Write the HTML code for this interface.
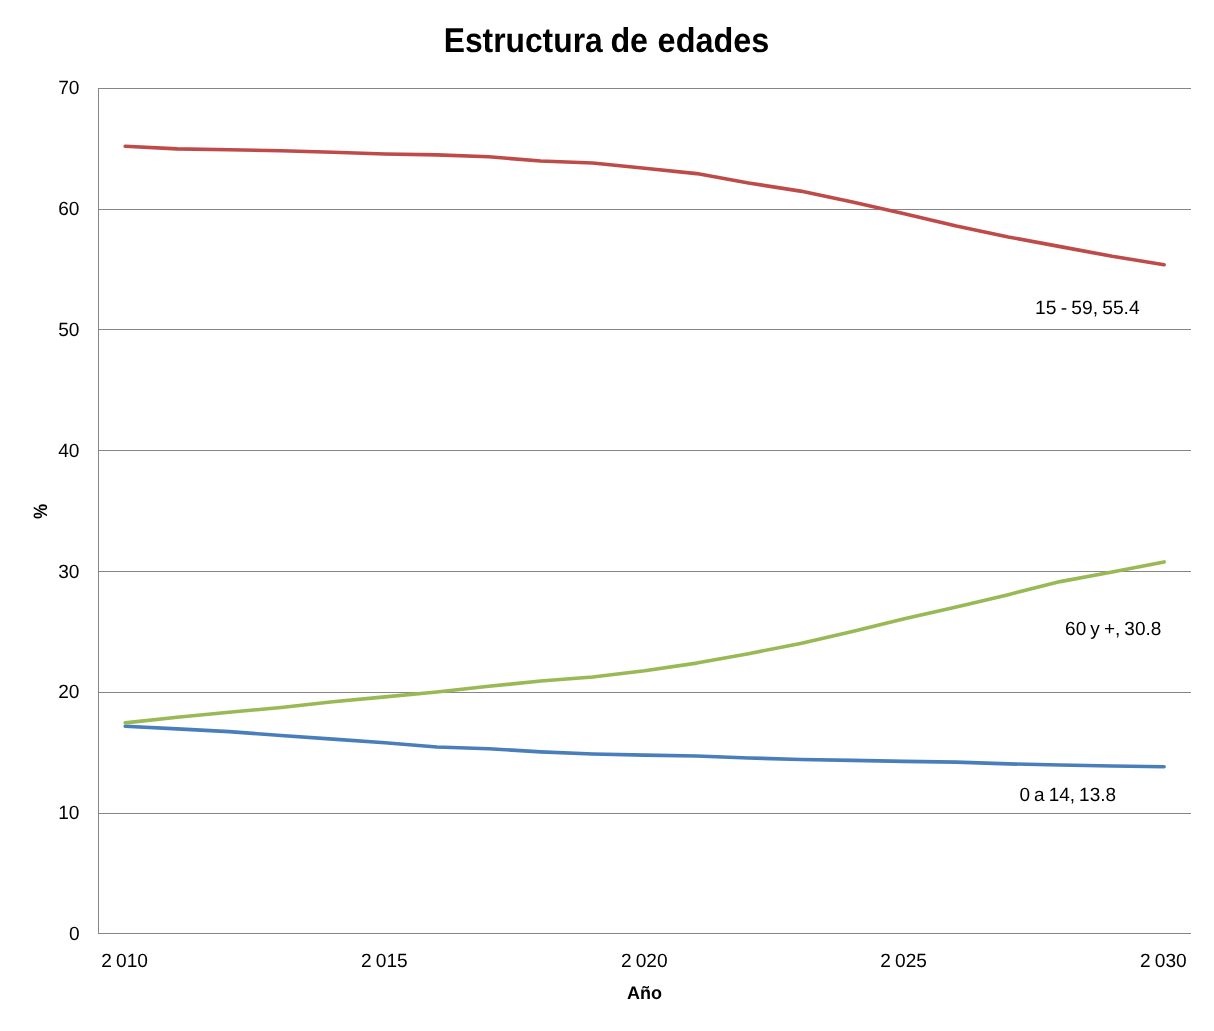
<!DOCTYPE html>
<html lang="es">
<head>
<meta charset="utf-8">
<title>Estructura de edades</title>
<style>
html,body{margin:0;padding:0;background:#fff;}
body{width:1214px;height:1031px;overflow:hidden;}
svg{display:block;will-change:transform;}
text{font-family:"Liberation Sans",sans-serif;fill:#000;text-rendering:geometricPrecision;}
.ax{font-size:19.1px;word-spacing:-1.2px;}
.b{font-weight:bold;}
</style>
</head>
<body>
<svg width="1214" height="1031" viewBox="0 0 1214 1031">
<g fill="#868686" shape-rendering="crispEdges">
<rect x="98" y="88" width="1093" height="1"/>
<rect x="98" y="209" width="1093" height="1"/>
<rect x="98" y="329" width="1093" height="1"/>
<rect x="98" y="450" width="1093" height="1"/>
<rect x="98" y="571" width="1093" height="1"/>
<rect x="98" y="692" width="1093" height="1"/>
<rect x="98" y="813" width="1093" height="1"/>
<rect x="98" y="933" width="1093" height="1"/>
<rect x="98" y="88" width="1" height="846"/>
</g>
<g fill="none" stroke-width="3.6" stroke-linecap="round" stroke-linejoin="round">
<polyline stroke="#4a7ebb" points="125.20,726.23 177.15,728.89 229.09,731.67 281.04,735.53 332.98,739.15 384.93,742.77 436.87,747.00 488.81,748.81 540.76,751.83 592.71,754.00 644.65,755.08 696.60,756.05 748.54,757.98 800.49,759.43 852.43,760.40 904.38,761.36 956.32,762.09 1008.27,763.90 1060.21,764.98 1112.15,765.95 1164.10,766.79"/>
<polyline stroke="#be4b48" points="125.20,146.20 177.15,148.86 229.09,149.82 281.04,150.79 332.98,152.24 384.93,153.93 436.87,154.89 488.81,156.82 540.76,160.93 592.71,162.98 644.65,168.17 696.60,173.60 748.54,183.02 800.49,191.11 852.43,201.97 904.38,213.80 956.32,226.11 1008.27,236.98 1060.21,246.64 1112.15,256.29 1164.10,264.74"/>
<polyline stroke="#98b954" points="125.20,722.85 177.15,717.18 229.09,712.23 281.04,707.52 332.98,701.73 384.93,696.90 436.87,692.07 488.81,686.28 540.76,680.97 592.71,676.98 644.65,670.83 696.60,663.10 748.54,653.68 800.49,643.42 852.43,631.47 904.38,618.68 956.32,606.97 1008.27,594.65 1060.21,581.62 1112.15,571.96 1164.10,561.94"/>
</g>
<text class="b" font-size="34.4px" y="52"><tspan x="443.7" textLength="159.0" lengthAdjust="spacingAndGlyphs">Estructura</tspan> <tspan x="610.4" textLength="37.7" lengthAdjust="spacingAndGlyphs">de</tspan> <tspan x="657.6" textLength="111.8" lengthAdjust="spacingAndGlyphs">edades</tspan></text>
<g class="ax" text-anchor="end">
<text x="79.5" y="94">70</text>
<text x="79.5" y="215">60</text>
<text x="79.5" y="336">50</text>
<text x="79.5" y="457">40</text>
<text x="79.5" y="578">30</text>
<text x="79.5" y="698">20</text>
<text x="79.5" y="819">10</text>
<text x="79.5" y="940">0</text>
</g>
<g class="ax" text-anchor="middle">
<text x="124.6" y="967">2 010</text>
<text x="384.4" y="967">2 015</text>
<text x="644.3" y="967">2 020</text>
<text x="903.6" y="967">2 025</text>
<text x="1163.4" y="967">2 030</text>
</g>
<g class="ax">
<text x="1035.1" y="314" textLength="104.6" lengthAdjust="spacingAndGlyphs">15 - 59, 55.4</text>
<text x="1065.1" y="635" textLength="96.2" lengthAdjust="spacingAndGlyphs">60 y +, 30.8</text>
<text x="1019.5" y="801" textLength="96.5" lengthAdjust="spacingAndGlyphs">0 a 14, 13.8</text>
</g>
<g class="b" font-size="18px" text-anchor="middle">
<text x="644.4" y="999">Año</text>
<text transform="translate(47 511.4) rotate(-90) scale(0.943 1.074)" x="0" y="0">%</text>
</g>
</svg>
</body>
</html>
